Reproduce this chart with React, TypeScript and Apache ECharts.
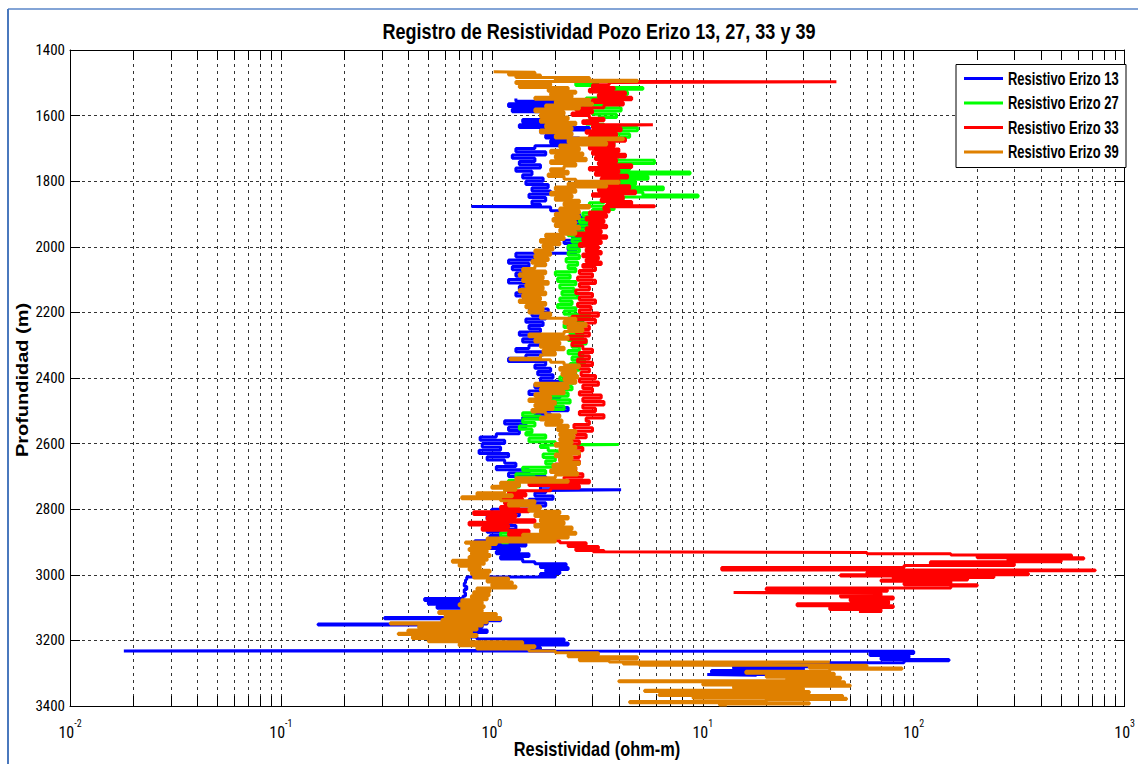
import React, { useEffect, useRef } from "react";
import * as echarts from "echarts";

// Depth (m) / resistivity (ohm-m) samples per well: [depth, resistivity]
const erizo13: number[][] = [
  [1548,1.3],[1556,2.0],[1564,1.2],[1572,1.85],[1580,1.25],[1588,2.1],[1596,1.9],[1604,2.15],[1612,1.4],[1620,1.9],[1628,1.35],[1636,2.9],[1644,1.7],[1652,2.3],[1660,1.8],[1668,2.6],[1676,1.9],[1684,2.4],[1692,1.6],[1700,1.3],[1710,1.8],[1720,1.25],[1730,1.6],[1740,1.35],[1750,1.7],[1760,1.3],[1770,1.55],[1780,1.4],[1790,1.75],[1800,1.45],[1810,1.85],[1820,1.55],[1830,1.9],[1840,1.5],[1850,1.8],[1860,1.55],[1870,1.7],[1877,0.8],[1879,1.9],[1890,2.3],[1900,2.6],[1910,3.3],[1920,2.3],[1930,2.9],[1940,2.2],[1950,2.7],[1960,2.4],[1970,2.8],[1980,2.2],[1990,2.6],[2000,2.3],[2010,2.5],[2020,1.3],[2030,1.6],[2040,1.2],[2050,1.5],[2060,1.25],[2070,1.55],[2080,1.3],[2090,1.6],[2100,1.2],[2110,1.5],[2120,1.35],[2130,1.65],[2140,1.3],[2150,1.55],[2160,1.4],[2170,1.7],[2180,1.5],[2190,1.85],[2200,1.55],[2210,1.8],[2220,1.45],[2230,1.75],[2240,1.5],[2250,1.7],[2260,1.35],[2270,1.7],[2280,1.4],[2290,1.8],[2300,1.5],[2310,1.3],[2320,1.75],[2330,1.45],[2340,1.2],[2350,1.8],[2360,1.6],[2370,1.9],[2380,1.65],[2390,1.95],[2400,1.7],[2410,2.2],[2420,1.6],[2430,2.0],[2440,1.5],[2450,2.1],[2460,1.7],[2470,2.0],[2480,1.8],[2490,2.3],[2500,1.6],[2510,1.9],[2520,1.4],[2530,1.15],[2540,1.45],[2550,1.2],[2560,1.35],[2570,1.05],[2580,0.88],[2590,1.15],[2600,0.9],[2610,1.1],[2620,0.87],[2630,1.2],[2640,0.95],[2650,1.15],[2660,1.3],[2670,1.05],[2680,1.5],[2690,1.2],[2700,1.8],[2710,1.6],[2720,2.0],[2730,1.7],[2741,4.1],[2743,1.8],[2750,1.6],[2760,1.95],[2770,1.5],[2780,1.8],[2790,1.3],[2800,1.0],[2810,1.35],[2820,0.95],[2830,1.25],[2840,1.05],[2850,1.3],[2860,0.95],[2870,1.1],[2880,0.98],[2890,1.05],[2896,0.83],[2904,1.45],[2912,0.9],[2920,1.35],[2928,1.05],[2936,1.5],[2944,1.1],[2952,1.4],[2960,1.6],[2966,2.25],[2972,1.7],[2978,2.3],[2984,1.8],[2990,2.1],[2996,1.7],[3004,2.0],[3007,0.76],[3015,0.75],[3025,0.74],[3035,0.76],[3045,0.74],[3055,0.75],[3065,0.73],[3072,0.48],[3078,0.72],[3084,0.5],[3090,0.8],[3096,0.55],[3102,0.82],[3110,0.75],[3118,0.9],[3126,0.8],[3130,0.31],[3134,1.1],[3140,0.85],[3146,0.95],[3150,0.15],[3153,0.9],[3160,0.8],[3168,0.95],[3176,0.8],[3184,0.7],[3190,0.85],[3196,2.2],[3202,1.2],[3208,2.3],[3214,1.4],[3222,1.7],[3231,2.0],[3232,0.018],[3233,100],[3240,62],[3246,95],[3252,70],[3258,147],[3262,90],[3268,11],[3274,35],[3280,14],[3286,30],[3292,11],[3298,20],[3304,10.5],[3306,18]
];

const erizo27: number[][] = [
  [1486,2.4],[1494,3.2],[1500,2.5],[1508,3.3],[1514,5.2],[1520,3.5],[1528,4.4],[1536,3.2],[1546,2.8],[1556,3.6],[1566,2.7],[1576,4.1],[1586,3.0],[1596,3.9],[1606,3.2],[1616,2.8],[1626,3.4],[1636,4.9],[1646,3.4],[1656,4.5],[1666,3.1],[1676,3.8],[1686,3.0],[1696,3.6],[1706,3.2],[1716,4.0],[1726,3.3],[1736,5.9],[1746,3.6],[1756,4.5],[1764,3.4],[1772,8.7],[1778,4.0],[1786,5.5],[1794,3.6],[1802,4.8],[1810,3.4],[1818,6.5],[1826,3.8],[1834,5.2],[1842,9.5],[1848,4.2],[1856,3.4],[1866,2.9],[1876,3.8],[1886,3.0],[1896,2.7],[1906,3.2],[1916,2.6],[1926,3.0],[1936,2.5],[1946,2.9],[1956,2.3],[1966,2.8],[1976,2.4],[1986,2.7],[1996,2.3],[2006,2.6],[2016,2.3],[2026,2.6],[2036,2.25],[2046,2.55],[2056,2.3],[2066,2.5],[2076,2.0],[2086,2.35],[2096,2.05],[2106,2.5],[2116,2.1],[2126,2.45],[2136,2.15],[2146,2.55],[2156,2.1],[2166,2.4],[2176,2.05],[2186,2.5],[2196,2.2],[2206,2.9],[2216,2.3],[2226,2.7],[2236,2.2],[2246,2.6],[2256,2.35],[2266,2.7],[2276,2.3],[2286,2.8],[2296,2.4],[2306,2.6],[2316,2.3],[2326,2.7],[2336,2.4],[2346,2.75],[2356,2.35],[2366,2.6],[2376,2.2],[2386,2.5],[2396,2.1],[2406,2.45],[2416,2.15],[2426,2.4],[2436,2.1],[2446,2.3],[2456,1.9],[2466,2.35],[2476,1.95],[2486,2.2],[2496,1.6],[2506,1.4],[2516,1.7],[2526,1.4],[2536,1.6],[2546,1.35],[2556,1.55],[2566,1.45],[2574,1.8],[2584,1.5],[2594,2.0],[2603,4.0],[2605,1.7],[2612,1.85],[2622,2.05],[2632,1.75],[2642,2.0],[2652,1.8],[2662,1.95],[2672,1.4],[2682,1.8],[2692,1.3],[2702,1.6],[2712,1.2],[2722,1.35],[2732,1.15],[2742,1.3],[2752,1.2],[2762,1.3],[2772,1.15],[2782,1.28],[2792,1.12],[2802,1.2],[2812,1.1],[2822,1.18],[2832,1.05],[2842,1.15],[2852,1.08],[2862,1.2],[2872,1.1],[2882,1.18],[2892,1.12],[2902,1.2]
];

const erizo33: number[][] = [
  [1492,3.0],[1496,6.5],[1497,43],[1499,3.6],[1506,3.0],[1514,3.8],[1520,2.9],[1528,4.3],[1536,3.2],[1544,4.6],[1552,3.0],[1560,4.2],[1568,3.4],[1576,2.5],[1584,3.0],[1592,2.4],[1600,2.9],[1608,3.4],[1616,2.7],[1624,3.2],[1628,5.8],[1630,3.0],[1638,4.1],[1646,2.8],[1654,3.9],[1662,2.9],[1670,4.3],[1678,3.0],[1686,3.8],[1694,2.9],[1702,4.0],[1710,3.0],[1718,4.3],[1726,3.1],[1734,3.9],[1742,3.2],[1750,4.6],[1758,2.9],[1766,4.0],[1774,3.1],[1782,4.4],[1790,3.3],[1798,4.0],[1806,3.0],[1814,4.5],[1822,3.2],[1830,4.8],[1838,3.0],[1846,4.2],[1854,3.3],[1862,4.6],[1870,3.5],[1875,5.9],[1878,3.4],[1886,3.6],[1894,2.9],[1902,3.5],[1910,2.8],[1918,3.4],[1926,2.9],[1934,3.5],[1942,2.8],[1950,3.3],[1958,2.5],[1966,3.5],[1974,2.7],[1982,3.3],[1990,2.6],[1998,3.2],[2006,2.8],[2014,3.3],[2022,2.7],[2030,3.2],[2038,2.8],[2046,3.3],[2054,2.7],[2062,3.1],[2072,2.6],[2082,3.0],[2092,2.55],[2102,3.1],[2112,2.6],[2122,2.9],[2132,2.5],[2142,3.0],[2152,2.6],[2162,3.1],[2172,2.55],[2182,2.95],[2192,2.6],[2202,3.2],[2212,2.4],[2222,3.1],[2232,2.3],[2242,2.9],[2252,2.5],[2262,2.9],[2272,2.3],[2282,2.8],[2292,2.4],[2302,2.7],[2312,3.0],[2322,2.6],[2332,2.9],[2342,2.55],[2352,3.0],[2362,2.6],[2372,2.9],[2382,2.65],[2392,3.1],[2402,2.6],[2412,3.2],[2422,2.7],[2432,3.0],[2442,2.6],[2452,3.3],[2462,2.7],[2472,3.4],[2482,2.7],[2492,3.1],[2502,2.6],[2512,3.4],[2522,2.8],[2532,2.9],[2542,2.45],[2552,3.0],[2562,2.5],[2572,2.8],[2582,2.4],[2592,2.6],[2602,2.3],[2612,2.7],[2622,2.3],[2632,2.6],[2642,2.1],[2652,2.6],[2662,2.0],[2672,2.5],[2682,2.1],[2692,2.7],[2702,2.2],[2712,2.9],[2720,1.5],[2728,2.6],[2736,1.9],[2744,1.2],[2752,1.45],[2760,1.1],[2768,1.4],[2776,1.15],[2784,1.35],[2792,1.1],[2800,1.5],[2808,0.82],[2816,1.3],[2824,0.95],[2832,1.6],[2840,0.78],[2848,1.2],[2856,0.9],[2864,1.5],[2872,1.2],[2880,1.7],[2888,1.3],[2896,2.1],[2902,2.8],[2908,2.3],[2914,3.2],[2920,2.5],[2926,3.4],[2930,3.0],[2932,60],[2936,150],[2940,560],[2944,200],[2948,640],[2952,280],[2956,500],[2960,120],[2966,300],[2972,90],[2978,12.3],[2985,725],[2988,200],[2992,60],[2996,350],[3000,45],[3004,240],[3008,80],[3012,180],[3016,70],[3020,150],[3026,90],[3030,200],[3034,150],[3040,20],[3046,75],[3050,30],[3054,14],[3056,70],[3062,45],[3068,80],[3074,50],[3080,76],[3088,28],[3094,80],[3100,40],[3106,70],[3112,55]
];

const erizo39: number[][] = [
  [1466,1.02],[1468,1.6],[1472,1.2],[1476,1.7],[1480,1.3],[1484,2.9],[1488,2.0],[1492,4.9],[1496,1.3],[1502,1.9],[1508,1.35],[1514,2.3],[1520,1.85],[1526,2.5],[1532,1.9],[1538,2.4],[1544,1.6],[1550,2.9],[1556,2.0],[1562,3.0],[1568,1.8],[1574,2.6],[1580,1.6],[1588,2.2],[1596,1.7],[1604,2.3],[1612,1.7],[1620,2.5],[1628,1.8],[1636,2.4],[1644,1.7],[1652,2.4],[1660,2.0],[1668,4.2],[1674,2.3],[1682,3.5],[1690,2.1],[1698,2.6],[1706,1.9],[1714,2.7],[1722,2.0],[1730,2.8],[1738,1.9],[1746,2.5],[1754,2.2],[1762,1.9],[1770,2.3],[1778,1.85],[1786,2.2],[1794,2.5],[1800,4.0],[1806,2.3],[1812,3.5],[1818,2.0],[1826,2.5],[1834,1.9],[1842,2.4],[1850,2.0],[1858,2.6],[1866,2.2],[1874,2.9],[1882,2.1],[1890,2.6],[1898,2.0],[1906,2.6],[1914,1.95],[1922,2.5],[1930,2.0],[1938,2.6],[1946,2.1],[1954,2.5],[1962,1.8],[1970,2.2],[1978,1.7],[1986,2.1],[1994,1.75],[2002,1.95],[2010,1.6],[2018,1.9],[2026,1.6],[2034,1.85],[2042,1.55],[2050,1.8],[2058,1.6],[2066,1.4],[2074,1.8],[2082,1.35],[2090,1.75],[2098,1.4],[2106,1.85],[2114,1.45],[2122,1.75],[2130,1.35],[2138,1.8],[2146,1.4],[2154,1.7],[2162,1.35],[2170,1.8],[2178,1.45],[2186,1.75],[2194,1.5],[2202,1.9],[2210,1.7],[2218,2.5],[2226,2.2],[2234,2.8],[2242,2.3],[2250,2.7],[2258,2.2],[2266,1.5],[2274,2.3],[2282,1.6],[2290,2.1],[2298,1.7],[2306,2.2],[2314,1.75],[2322,2.0],[2330,1.7],[2340,1.22],[2344,1.9],[2352,2.2],[2360,2.6],[2368,2.1],[2376,2.5],[2384,2.15],[2392,2.55],[2400,2.2],[2408,2.5],[2416,1.6],[2424,2.3],[2432,1.7],[2440,2.2],[2448,1.6],[2456,1.9],[2464,1.5],[2472,2.0],[2480,1.6],[2488,1.95],[2496,1.55],[2504,1.8],[2512,2.1],[2520,1.7],[2528,2.15],[2536,1.8],[2544,2.3],[2552,2.05],[2560,2.5],[2568,2.1],[2576,2.45],[2584,2.1],[2592,2.4],[2600,2.0],[2608,2.5],[2616,2.1],[2624,2.6],[2632,2.0],[2640,2.4],[2648,2.1],[2656,2.6],[2664,1.95],[2672,2.5],[2680,1.9],[2688,2.55],[2696,2.0],[2704,1.3],[2712,2.3],[2718,1.1],[2724,1.35],[2730,1.0],[2736,1.3],[2742,1.15],[2750,0.85],[2756,1.25],[2762,0.72],[2768,1.1],[2774,1.6],[2782,1.2],[2790,1.7],[2798,1.5],[2806,2.1],[2814,1.6],[2822,2.3],[2830,1.7],[2838,2.2],[2846,1.6],[2854,2.4],[2862,1.7],[2870,2.5],[2876,1.4],[2882,2.3],[2888,0.95],[2894,2.0],[2900,0.75],[2904,1.05],[2908,0.8],[2914,0.98],[2920,0.78],[2926,0.95],[2932,0.8],[2938,0.98],[2944,0.78],[2950,0.95],[2956,0.65],[2962,0.92],[2968,0.7],[2974,0.88],[2980,0.78],[2986,0.98],[2992,0.8],[2998,0.96],[3004,0.82],[3010,1.2],[3016,0.95],[3022,1.25],[3028,1.0],[3034,1.3],[3040,0.85],[3046,0.98],[3052,0.82],[3058,0.97],[3064,0.8],[3070,0.95],[3076,0.72],[3082,0.9],[3088,0.7],[3094,0.92],[3100,0.72],[3106,0.9],[3112,0.56],[3118,1.05],[3124,0.6],[3130,1.1],[3136,0.58],[3142,0.95],[3146,0.33],[3150,0.9],[3156,0.45],[3162,0.85],[3168,0.4],[3174,0.8],[3178,0.36],[3182,0.85],[3188,0.42],[3194,0.78],[3198,0.5],[3204,1.4],[3210,0.7],[3216,1.6],[3222,0.85],[3226,1.5],[3232,2.0],[3238,3.2],[3244,2.3],[3250,4.9],[3256,2.6],[3262,3.6],[3266,40],[3268,4.2],[3272,5],[3276,60],[3280,32],[3284,88],[3288,40],[3294,16],[3300,42],[3306,20],[3312,45],[3318,25],[3323,4.0],[3326,47],[3332,10],[3336,50],[3340,14],[3346,30],[3352,5.3],[3356,32],[3360,12],[3364,6.2],[3368,46],[3372,9],[3376,48],[3380,20],[3386,4.5],[3390,32],[3394,12],[3397,13]
];

const seriesNames = ["Resistivo Erizo 13", "Resistivo Erizo 27", "Resistivo Erizo 33", "Resistivo Erizo 39"];
const seriesColors = ["#0000ff", "#00ff00", "#ff0000", "#df8000"];
const wells = [erizo13, erizo27, erizo33, erizo39];

const chartTitle = "Registro de Resistividad Pozo Erizo 13, 27, 33 y 39";
const xAxisTitle = "Resistividad (ohm-m)";
const yAxisTitle = "Profundidad (m)";

// Minor (2..9 per decade) positions of the logarithmic resistivity axis
const minorTickValues = [
  0.02, 0.03, 0.04, 0.05, 0.06, 0.07, 0.08, 0.09,
  0.2, 0.3, 0.4, 0.5, 0.6, 0.7, 0.8, 0.9,
  2, 3, 4, 5, 6, 7, 8, 9,
  20, 30, 40, 50, 60, 70, 80, 90,
  200, 300, 400, 500, 600, 700, 800, 900,
];

const depthMin = 1400;
const depthMax = 3400;
const depthStep = 200;
const resMin = 0.01;
const resMax = 1000;

const ARIAL = "'Liberation Sans', Arial, sans-serif";
const CONDENSED = "'Roboto Condensed', 'Liberation Sans', sans-serif";

// Squeezed Arial-like text used for the title, the legend and the axis titles
const squeeze = 0.82;
const TOP_Z = 100;

function buildLegend(): any[] {
  const left = 956;
  const top = 64.5;
  const rowY = [78.5, 103, 127.5, 152];
  const els: any[] = [
    {
      type: "rect",
      z: TOP_Z,
      shape: { x: left, y: top, width: 170, height: 103 },
      style: { fill: "#fff", stroke: "#000", lineWidth: 1 },
    },
  ];
  seriesNames.forEach((name, i) => {
    els.push({
      type: "line",
      z: TOP_Z + 1,
      shape: { x1: left + 8, y1: rowY[i], x2: left + 47, y2: rowY[i] },
      style: { stroke: seriesColors[i], lineWidth: 3 },
    });
    els.push({
      type: "text",
      z: TOP_Z + 1,
      x: left + 52,
      y: rowY[i],
      scaleX: 0.74,
      style: { text: name, font: `bold 17.5px ${ARIAL}`, fill: "#000", align: "left", verticalAlign: "middle" },
    });
  });
  return els;
}

export default function App() {
  const ref = useRef<HTMLDivElement>(null);

  useEffect(() => {
    if (!ref.current) return;
    const chart = echarts.init(ref.current, undefined, { renderer: "svg" });

    const axisLine = { show: true, onZero: false, lineStyle: { color: "#000", width: 1 } };
    const axisTick = { show: true, inside: true, length: 10, lineStyle: { color: "#000" } };

    const option: any = {
      animation: false,
      backgroundColor: "#ffffff",
      graphic: [
        {
          type: "text",
          x: 599,
          y: 31,
          scaleX: squeeze,
          style: { text: chartTitle, font: `bold 22px ${ARIAL}`, fill: "#000", align: "center", verticalAlign: "middle" },
        },
        {
          type: "text",
          x: 597,
          y: 749,
          scaleX: squeeze,
          style: { text: xAxisTitle, font: `bold 20px ${ARIAL}`, fill: "#000", align: "center", verticalAlign: "middle" },
        },
        {
          type: "text",
          x: 22,
          y: 380,
          rotation: Math.PI / 2,
          scaleY: squeeze,
          style: { text: yAxisTitle, font: `bold 20px ${ARIAL}`, fill: "#000", align: "center", verticalAlign: "middle" },
        },
        { type: "line", shape: { x1: 8, y1: 9, x2: 1138, y2: 9 }, style: { stroke: "#5a86c8", lineWidth: 1.5 } },
        { type: "line", shape: { x1: 8, y1: 9, x2: 8, y2: 764 }, style: { stroke: "#4a78bd", lineWidth: 2 } },
        ...buildLegend(),
      ],
      grid: { left: 70, right: 8, top: 50, bottom: 58, containLabel: false },
      xAxis: [
        {
          type: "log",
          logBase: 10,
          min: resMin,
          max: resMax,
          axisLine,
          axisTick,
          axisLabel: {
            margin: 10,
            color: "#000",
            formatter: (v: number) => `{b|10}{s|${Math.round(Math.log10(v))}}`,
            rich: {
              b: { fontFamily: CONDENSED, fontSize: 16, color: "#000", padding: [8, 0, 0, 0] },
              s: { fontFamily: CONDENSED, fontSize: 10, color: "#000", padding: [0, 0, 9, 0] },
            },
          },
          splitLine: { show: true, lineStyle: { color: "#333", width: 1, type: [3, 4] } },
        },
        {
          type: "log",
          logBase: 10,
          min: resMin,
          max: resMax,
          position: "top",
          axisLine,
          axisTick,
          axisLabel: { show: false },
          splitLine: { show: false },
        },
      ],
      yAxis: [
        {
          type: "value",
          inverse: true,
          min: depthMin,
          max: depthMax,
          interval: depthStep,
          axisLine,
          axisTick,
          axisLabel: { fontFamily: CONDENSED, fontSize: 15, color: "#000", margin: 5, formatter: (v: number) => String(v) },
          splitLine: { show: true, lineStyle: { color: "#333", width: 1, type: [3, 3] } },
        },
        {
          type: "value",
          inverse: true,
          min: depthMin,
          max: depthMax,
          interval: depthStep,
          position: "right",
          axisLine,
          axisTick,
          axisLabel: { show: false },
          splitLine: { show: false },
        },
      ],
      series: [
        {
          type: "custom",
          name: "minor",
          silent: true,
          xAxisIndex: 0,
          yAxisIndex: 0,
          encode: { x: 0, y: 1 },
          data: minorTickValues.map((v) => [v, depthMin]),
          renderItem: (_params: any, api: any) => {
            const v = api.value(0);
            const top = api.coord([v, depthMin]);
            const bot = api.coord([v, depthMax]);
            const x = Math.round(top[0]) + 0.5;
            return {
              type: "group",
              children: [
                { type: "line", shape: { x1: x, y1: top[1], x2: x, y2: bot[1] }, style: { stroke: "#333", lineWidth: 1, lineDash: [3, 4] } },
                { type: "line", shape: { x1: x, y1: top[1], x2: x, y2: top[1] + 10 }, style: { stroke: "#000", lineWidth: 1 } },
                { type: "line", shape: { x1: x, y1: bot[1], x2: x, y2: bot[1] - 10 }, style: { stroke: "#000", lineWidth: 1 } },
              ],
            };
          },
        },
        ...wells.map((w, i) => ({
          type: "line",
          name: seriesNames[i],
          xAxisIndex: 0,
          yAxisIndex: 0,
          step: "start",
          showSymbol: false,
          symbol: "none",
          color: seriesColors[i],
          lineStyle: { color: seriesColors[i], width: 3 },
          data: w.map(([d, r]) => [r, d]),
        })),
      ],
    };

    chart.setOption(option);
    return () => chart.dispose();
  }, []);

  return (
    <div
      ref={ref}
      style={{ position: "fixed", left: 0, top: 0, width: 1138, height: 764, background: "#fff" }}
    />
  );
}
